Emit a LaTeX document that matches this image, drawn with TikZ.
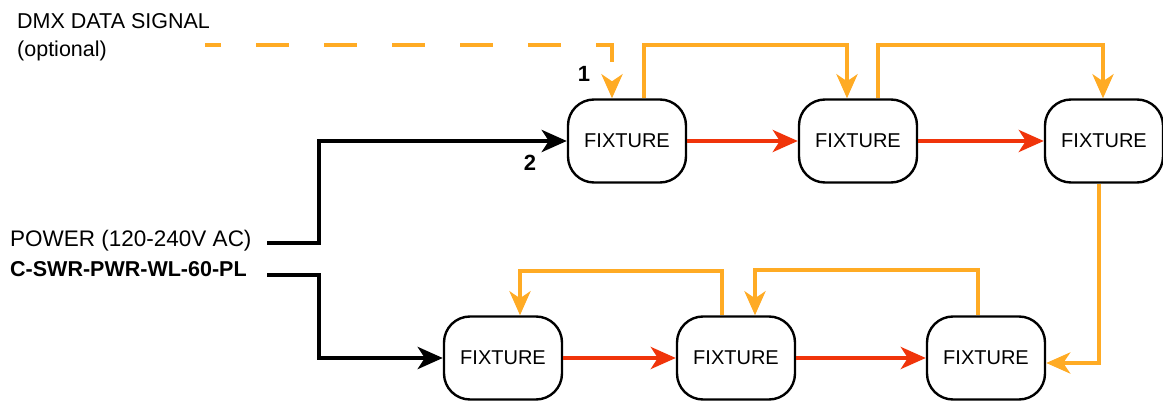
\documentclass[tikz,border=0pt]{standalone}
\usepackage{fontspec}
\setmainfont{Liberation Sans}
\usetikzlibrary{arrows.meta}
\definecolor{dmxorange}{RGB}{255,171,36}
\definecolor{chainred}{RGB}{240,52,10}
\begin{document}
\begin{tikzpicture}[x=1pt,y=-1pt,
  fixture/.style={draw=black,line width=2.4pt,rounded corners=26pt,minimum width=118pt,minimum height=83pt,inner sep=0pt,font=\fontsize{20}{20}\selectfont},
  dataline/.style={draw=dmxorange,line width=4pt,-{Stealth[length=24pt,width=21pt,inset=7pt]}},
  chain/.style={draw=chainred,line width=4pt,-{Stealth[length=25pt,width=22pt,inset=7pt]}},
  powerline/.style={draw=black,line width=4.5pt,-{Stealth[length=25pt,width=22pt,inset=7pt]}},
  lbl/.style={anchor=base west,inner sep=0pt,font=\fontsize{21.5}{21.5}\selectfont},
  num/.style={inner sep=0pt,font=\bfseries\fontsize{22}{22}\selectfont}]
\useasboundingbox (0,0) rectangle (1163,403);
% fixtures
\node[fixture] (f1) at (627,141) {FIXTURE};
\node[fixture] (f2) at (858,141) {FIXTURE};
\node[fixture] (f3) at (1104,141) {FIXTURE};
\node[fixture] (f4) at (503,358) {FIXTURE};
\node[fixture] (f5) at (736,358) {FIXTURE};
\node[fixture] (f6) at (986,358) {FIXTURE};
% labels
\node[lbl] (dmx) at (17,29) {DMX DATA SIGNAL};
\node[lbl] (opt) at (17,57) {(optional)};
\node[lbl,font=\fontsize{22.5}{22.5}\selectfont] (pwr) at (10,247) {POWER (120-240V AC)};
\node[lbl,font=\bfseries\fontsize{21.5}{21.5}\selectfont] (model) at (10,277) {C-SWR-PWR-WL-60-PL};
\node[num] (n1) at (584,74) {1};
\node[num] (n2) at (530,163) {2};
% coordinates
\coordinate (ds) at (205,45);
\coordinate (dc) at (612,45);
\coordinate (t1) at (847,45);
\coordinate (t2) at (1103,45);
\coordinate (r1) at (1099,363);
\coordinate (b1) at (755,270);
\coordinate (b2) at (520,271);
\coordinate (p1) at (267,243);
\coordinate (p2) at (267,275);
\coordinate (pc1) at (319,243);
\coordinate (pc2) at (319,275);
% DMX dashed
\draw[dataline,dash pattern=on 33pt off 35pt,dash phase=17pt] (ds) -- (dc) -- (dc |- f1.north);
% data chain top
\draw[dataline] ([xshift=17pt]f1.north) |- (t1) -- (t1 |- f2.north);
\draw[dataline] ([xshift=20pt]f2.north) |- (t2) -- (t2 |- f3.north);
\draw[dataline] (r1 |- f3.south) -- (r1) -- (r1 -| f6.east);
\draw[dataline] ([xshift=-8pt]f6.north) |- (b1) -- (b1 |- f5.north);
\draw[dataline] ([xshift=-14pt]f5.north) |- (b2) -- (b2 |- f4.north);
% power chain
\draw[chain] (f1) -- (f2);
\draw[chain] (f2) -- (f3);
\draw[chain] (f4) -- (f5);
\draw[chain] (f5) -- (f6);
% power feed
\draw[powerline] (p1) -- (pc1) |- (f1.west);
\draw[powerline] (p2) -- (pc2) |- (f4.west);
\end{tikzpicture}
\end{document}
